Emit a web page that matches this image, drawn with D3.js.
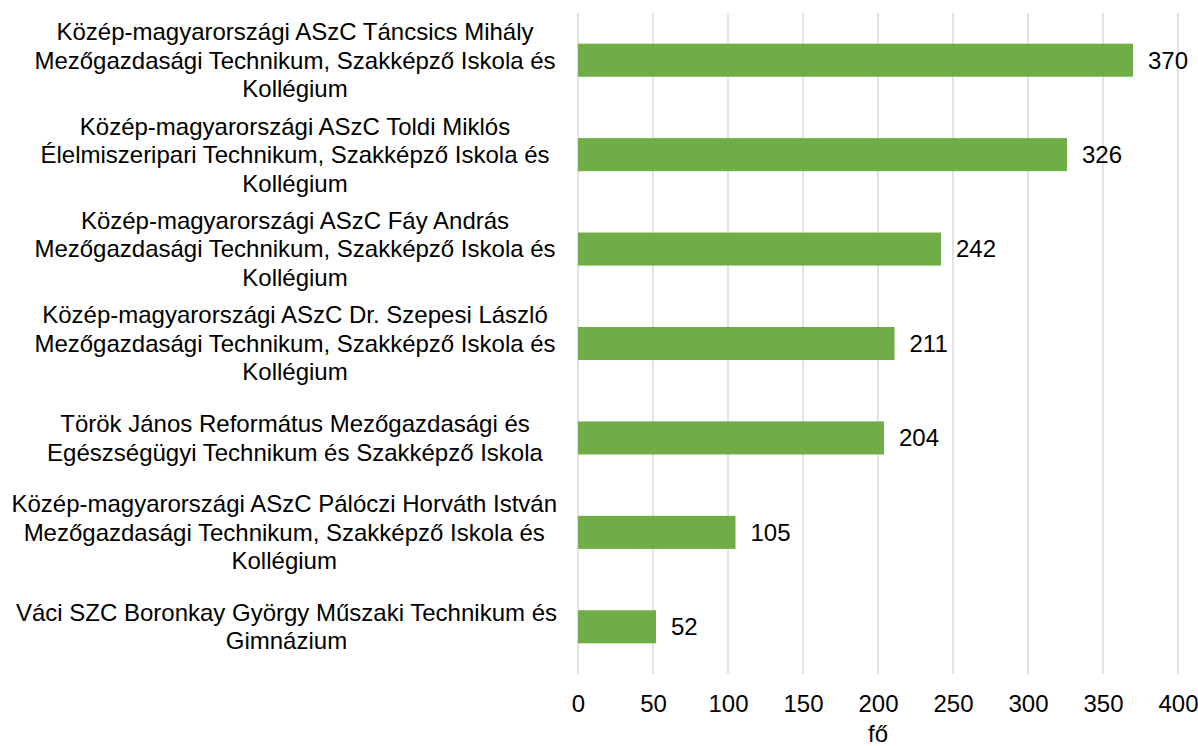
<!DOCTYPE html>
<html><head><meta charset="utf-8">
<script src="https://cdn.jsdelivr.net/npm/d3@7"></script>
<style>body{margin:0;background:#fff}svg{display:block}text{font-family:"Liberation Sans",Arial,sans-serif;fill:#000}</style>
</head><body>
<svg id="c" width="1198" height="746"></svg>
<script>
const categories = [
  "Közép-magyarországi ASzC Táncsics Mihály|Mezőgazdasági Technikum, Szakképző Iskola és|Kollégium",
  "Közép-magyarországi ASzC Toldi Miklós|Élelmiszeripari Technikum, Szakképző Iskola és|Kollégium",
  "Közép-magyarországi ASzC Fáy András|Mezőgazdasági Technikum, Szakképző Iskola és|Kollégium",
  "Közép-magyarországi ASzC Dr. Szepesi László|Mezőgazdasági Technikum, Szakképző Iskola és|Kollégium",
  "Török János Református Mezőgazdasági és|Egészségügyi Technikum és Szakképző Iskola",
  "Közép-magyarországi ASzC Pálóczi Horváth István|Mezőgazdasági Technikum, Szakképző Iskola és|Kollégium",
  "Váci SZC Boronkay György Műszaki Technikum és|Gimnázium"
];
const values = [370, 326, 242, 211, 204, 105, 52];
const xTicks = [0, 50, 100, 150, 200, 250, 300, 350, 400];
const xTitle = "fő";

const svg = d3.select("#c");
const L = 578, R = 1178, T = 13, B = 674;
const FS = 24;
const x = d3.scaleLinear().domain([0, 400]).range([L, R]);
const y = d3.scaleBand().domain(categories).range([T, B]).paddingInner(0.65).paddingOuter(0.325);

// gridlines
svg.append("g").selectAll("line").data(xTicks).join("line")
  .attr("x1", d => x(d)).attr("x2", d => x(d))
  .attr("y1", T).attr("y2", B)
  .attr("stroke", "#d9d9d9").attr("stroke-width", 1.5);

// bars
svg.append("g").selectAll("rect").data(values).join("rect")
  .attr("x", x(0)).attr("y", (d, i) => y(categories[i]))
  .attr("width", d => x(d) - x(0)).attr("height", y.bandwidth())
  .attr("fill", "#70ad47");

// value labels
svg.append("g").selectAll("text").data(values).join("text")
  .attr("x", d => x(d) + 15).attr("y", (d, i) => y(categories[i]) + y.bandwidth() / 2)
  .attr("dy", "0.35em").attr("font-size", FS).text(d => d);

// category labels (centred, but kept clear of the axis)
const lh = 28.5, labelCenter = 295, labelRight = 557;
const cg = svg.append("g");
categories.forEach(c => {
  const lines = c.split("|");
  const cy = y(c) + y.bandwidth() / 2;
  const t = cg.append("text").attr("text-anchor", "middle").attr("font-size", FS);
  const spans = lines.map((ln, j) => t.append("tspan")
      .attr("y", cy + (j - (lines.length - 1) / 2) * lh)
      .attr("dy", "0.35em").text(ln));
  const maxW = d3.max(spans, s => s.node().getComputedTextLength());
  const cx = Math.min(labelCenter, labelRight - maxW / 2);
  spans.forEach(s => s.attr("x", cx));
});

// x axis
const ax = svg.append("g").attr("transform", `translate(0,${B})`)
  .call(d3.axisBottom(x).tickValues(xTicks).tickSize(0).tickPadding(21));
ax.select(".domain").remove();
ax.selectAll("text").attr("font-size", FS).attr("font-family", '"Liberation Sans",Arial,sans-serif').attr("fill", "#000");

svg.append("text").attr("x", (L + R) / 2).attr("y", 734).attr("dy", "0.35em")
  .attr("text-anchor", "middle").attr("font-size", FS).text(xTitle);
</script>
</body></html>
